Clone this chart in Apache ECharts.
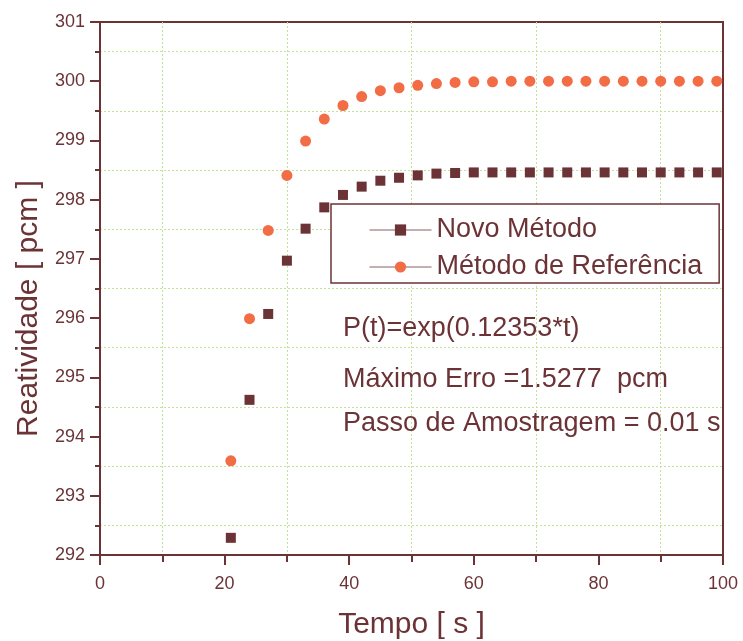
<!DOCTYPE html>
<html>
<head>
<meta charset="utf-8">
<script src="https://cdn.jsdelivr.net/npm/echarts@6/dist/echarts.min.js"></script>
<style>
html,body{margin:0;padding:0;background:#fff;}
#chart{width:743px;height:641px;}
</style>
</head>
<body>
<div id="chart"></div>
<script>
// Data
var tempo = [21, 24, 27, 30, 33, 36, 39, 42, 45, 48, 51, 54, 57, 60, 63, 66, 69, 72, 75, 78, 81, 84, 87, 90, 93, 96, 99];
var novoMetodo = [292.29, 294.62, 296.07, 296.97, 297.51, 297.87, 298.08, 298.22, 298.32, 298.37, 298.41, 298.44, 298.45, 298.46, 298.46, 298.46, 298.46, 298.46, 298.46, 298.46, 298.46, 298.46, 298.46, 298.46, 298.46, 298.46, 298.46];
var metodoReferencia = [293.59, 295.99, 297.48, 298.41, 298.99, 299.36, 299.59, 299.74, 299.84, 299.89, 299.93, 299.96, 299.98, 299.99, 299.99, 300.00, 300.00, 300.00, 300.00, 300.00, 300.00, 300.00, 300.00, 300.00, 300.00, 300.00, 300.00];
var seriesNames = ['Novo Método', 'Método de Referência'];
var annotations = ['P(t)=exp(0.12353*t)', 'Máximo Erro =1.5277  pcm', 'Passo de Amostragem = 0.01 s'];
var xTitle = 'Tempo [ s ]';
var yTitle = 'Reatividade [ pcm ]';

var maroon = '#6b3336';
var orange = '#f26c45';
var gridGreen = '#c2e29a';
var FONT = '"Liberation Sans", Arial, sans-serif';

function pairs(xs, ys) { return xs.map(function (x, i) { return [x, ys[i]]; }); }

var chart = echarts.init(document.getElementById('chart'), null, {renderer: 'canvas'});
chart.setOption({
  animation: false,
  backgroundColor: '#fff',
  textStyle: {fontFamily: FONT},
  grid: {left: 100, right: 20, top: 22, bottom: 86, containLabel: false, outerBoundsMode: 'none',
         show: true, borderColor: maroon, borderWidth: 2, backgroundColor: 'transparent'},
  xAxis: {
    type: 'value', min: 0, max: 100, interval: 20,
    name: xTitle, nameLocation: 'middle', nameGap: 55,
    nameTextStyle: {fontSize: 30, color: maroon, fontFamily: FONT},
    axisLine: {show: true, onZero: false, lineStyle: {color: maroon, width: 2}},
    axisTick: {show: true, inside: false, length: 10, lineStyle: {color: maroon, width: 2}},
    minorTick: {show: true, splitNumber: 2, length: 7, lineStyle: {color: maroon, width: 2}},
    axisLabel: {fontSize: 18, color: maroon, margin: 20, fontFamily: FONT},
    splitLine: {show: false},
    minorSplitLine: {show: true, lineStyle: {color: gridGreen, width: 1, type: [2, 2]}}
  },
  yAxis: {
    type: 'value', min: 292, max: 301, interval: 1,
    name: yTitle, nameLocation: 'middle', nameGap: 56, nameRotate: 90,
    nameTextStyle: {fontSize: 30, color: maroon, fontFamily: FONT, padding: [0, 40, 0, 0]},
    axisLine: {show: true, onZero: false, lineStyle: {color: maroon, width: 2}},
    axisTick: {show: true, inside: false, length: 10, lineStyle: {color: maroon, width: 2}},
    minorTick: {show: true, splitNumber: 2, length: 5, lineStyle: {color: maroon, width: 2}},
    axisLabel: {fontSize: 18, color: maroon, margin: 15, fontFamily: FONT},
    splitLine: {show: false},
    minorSplitLine: {show: true, lineStyle: {color: gridGreen, width: 1, type: [2, 2]}}
  },
  legend: {
    orient: 'vertical', left: 331, top: 204,
    padding: [11, 17, 1, 38],
    itemWidth: 62, itemHeight: 14, itemGap: 7,
    backgroundColor: '#fff', borderColor: maroon, borderWidth: 1.5, borderRadius: 0,
    textStyle: {fontSize: 27, color: maroon, fontFamily: FONT, lineHeight: 30},
    lineStyle: {opacity: 1, width: 1, color: '#8c5f61'},
    data: seriesNames
  },
  graphic: annotations.map(function (t, i) {
    return {
      type: 'text', x: 343, y: [329, 380, 424][i], z: 10,
      style: {text: t, fill: maroon, font: '27px ' + FONT, verticalAlign: 'middle', align: 'left'}
    };
  }),
  series: [
    {
      name: seriesNames[0], type: 'line', data: pairs(tempo, novoMetodo),
      symbol: 'rect', symbolSize: 10, showSymbol: true,
      itemStyle: {color: maroon},
      lineStyle: {opacity: 0, color: maroon}, z: 3
    },
    {
      name: seriesNames[1], type: 'line', data: pairs(tempo, metodoReferencia),
      symbol: 'circle', symbolSize: 11, showSymbol: true,
      itemStyle: {color: orange},
      lineStyle: {opacity: 0, color: maroon}, z: 3
    }
  ]
});
</script>
</body>
</html>
